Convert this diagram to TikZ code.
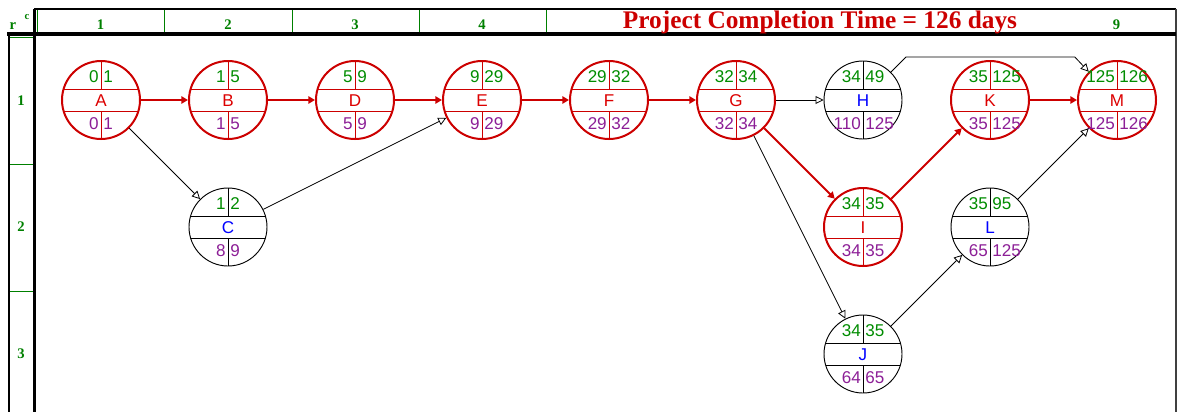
\documentclass[tikz,border=0pt]{standalone}
\usepackage{fontspec}
\setmainfont{Liberation Serif}
\newfontfamily\nodefont{Liberation Sans}
\usetikzlibrary{arrows.meta,calc}
\definecolor{critred}{RGB}{204,0,0}
\definecolor{hdrgreen}{RGB}{0,128,0}
\definecolor{numgreen}{RGB}{0,140,0}
\definecolor{numpurple}{RGB}{140,30,150}
\definecolor{letblue}{RGB}{0,0,255}
\definecolor{letred}{RGB}{220,0,0}
\tikzset{
  pnode/.style={circle, minimum size=58.5pt, inner sep=0pt},
  critnode/.style={draw=critred, line width=1.5pt},
  normnode/.style={draw=black, line width=0.7pt},
  critinner/.style={draw=critred, line width=0.75pt},
  norminner/.style={draw=black, line width=0.75pt},
  critlet/.style={text=letred},
  normlet/.style={text=letblue},
  num/.style={font=\nodefont\fontsize{12.8}{12.8}\selectfont, inner sep=0pt},
  crit/.style={draw=critred, line width=1.5pt, -{Triangle[length=5pt,width=5.5pt]}},
  norm/.style={draw=black, line width=0.6pt, -{Triangle[open,length=6pt,width=6pt]}},
  hdr/.style={font=\bfseries\fontsize{11}{11}\selectfont, text=hdrgreen, inner sep=0pt},
}
\newcommand\pertnode[9]{%
  \node[pnode, #9node] (#1) at (#2,#3) {};
  \path[#9inner] (#2-37.4,#3-11) -- (#2+37.4,#3-11)
    (#2-37.4,#3+11) -- (#2+37.4,#3+11)
    (#2,#3-39) -- (#2,#3-11)
    (#2,#3+11) -- (#2,#3+39);
  \node[num, text=numgreen, anchor=base east] (#1-es) at (#2-2,#3-18) {#5};
  \node[num, text=numgreen, anchor=base west] (#1-ef) at (#2+2,#3-18) {#6};
  \node[num, #9let, anchor=base] (#1-lab) at (#2,#3+6) {#4};
  \node[num, text=numpurple, anchor=base east] (#1-ls) at (#2-2,#3+29) {#7};
  \node[num, text=numpurple, anchor=base west] (#1-lf) at (#2+2,#3+29) {#8};
}
\begin{document}
\begin{tikzpicture}[x=0.75pt,y=-0.75pt]
\useasboundingbox (0,0) rectangle (1177,412);
\begin{scope}
\clip (0,0) rectangle (1177,412);
% frame
\draw[line width=1.1pt, black] (34,9) -- (1176,9);
\draw[line width=1.1pt, black!75] (1176,9) -- (1176,412);
\draw[line width=2.4pt] (7,34) -- (1176,34);
\draw[line width=2.4pt] (34.5,8.5) -- (34.5,412);
\draw[line width=1.5pt] (8.5,33) -- (8.5,412);
\foreach \x in {37.5,164,292,419,546} \draw[hdrgreen, line width=0.75pt] (\x,10) -- (\x,32);
\foreach \y in {37.5,164,291} \draw[hdrgreen, line width=0.75pt] (10,\y) -- (33,\y);
\end{scope}
% header labels
\foreach \i/\x in {1/100.5,2/228,3/355,4/482,9/1116.5}
  \node[hdr, anchor=base] (col\i) at (\x,29) {\i};
\foreach \i/\y in {1/101,2/227,3/354}
  \node[hdr, anchor=base] (row\i) at (21,\y+4) {\i};
\node[hdr, anchor=base] (rlab) at (13,29) {r};
\node[hdr, font=\bfseries\fontsize{8}{8}\selectfont, anchor=base] (clab) at (27,19) {c};
\node[font=\bfseries\fontsize{19}{19}\selectfont, text=critred, anchor=base, inner sep=0pt] (title) at (820,28) {Project Completion Time = 126 days};
% nodes
\pertnode{A}{101}{100}{A}{0}{1}{0}{1}{crit}
\pertnode{B}{228}{100}{B}{1}{5}{1}{5}{crit}
\pertnode{D}{355}{100}{D}{5}{9}{5}{9}{crit}
\pertnode{E}{482}{100}{E}{9}{29}{9}{29}{crit}
\pertnode{F}{609}{100}{F}{29}{32}{29}{32}{crit}
\pertnode{G}{736}{100}{G}{32}{34}{32}{34}{crit}
\pertnode{H}{863}{100}{H}{34}{49}{110}{125}{norm}
\pertnode{K}{990}{100}{K}{35}{125}{35}{125}{crit}
\pertnode{M}{1117}{100}{M}{125}{126}{125}{126}{crit}
\pertnode{C}{228}{227}{C}{1}{2}{8}{9}{norm}
\pertnode{I}{863}{227}{I}{34}{35}{34}{35}{crit}
\pertnode{L}{990}{227}{L}{35}{95}{65}{125}{norm}
\pertnode{J}{863}{354}{J}{34}{35}{64}{65}{norm}
% edges
\draw[crit] (A) -- (B);
\draw[crit] (B) -- (D);
\draw[crit] (D) -- (E);
\draw[crit] (E) -- (F);
\draw[crit] (F) -- (G);
\draw[crit] (G) -- (I);
\draw[crit] (I) -- (K);
\draw[crit] (K) -- (M);
\draw[norm] (A) -- (C);
\draw[norm] (C) -- (E);
\draw[norm] (G) -- (H);
\draw[norm] (G) -- (J);
\draw[norm] (J) -- (L);
\draw[norm] (L) -- (M);
\draw[norm] (H.45) -- ++(15,-15) -- ++(169,0) -- (M.135);
\end{tikzpicture}
\end{document}
